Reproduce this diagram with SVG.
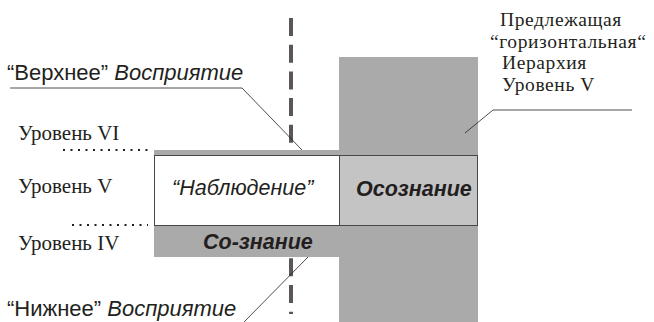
<svg xmlns="http://www.w3.org/2000/svg" width="654" height="322" viewBox="0 0 654 322">
<style>
.sans{font-family:"Liberation Sans",Arial,sans-serif;fill:#231f20}
.serif{font-family:"Liberation Serif","Times New Roman",serif;fill:#231f20;font-size:21px}
.it{font-style:italic}
.bd{font-weight:bold}
.lead{stroke:#231f20;stroke-width:0.8;fill:none}
.dots{stroke:#231f20;stroke-width:2;stroke-dasharray:2 5.5}
.rlab{font-size:19.5px;letter-spacing:0.6px}
</style>
<rect width="654" height="322" fill="#ffffff"/>
<g id="axis">
<line x1="291" y1="18" x2="291" y2="314" stroke="#5b5657" stroke-width="4" stroke-dasharray="18 8.7"/>
</g>
<g id="hierarchy">
<rect x="339" y="57" width="139" height="265" fill="#aaaaaa"/>
</g>
<g id="upper-bar">
<rect x="154" y="150" width="186" height="6" fill="#a9a9a9"/>
</g>
<g id="observation">
<rect x="154.5" y="155.5" width="185" height="70" fill="#ffffff" stroke="#4a4546" stroke-width="1"/>
<text class="sans it" x="172" y="195" font-size="21.5">“Наблюдение”</text>
</g>
<g id="awareness">
<rect x="339.5" y="155.5" width="138" height="70" fill="#c4c4c4" stroke="#4a4546" stroke-width="1"/>
<text class="sans it bd" x="356" y="196" font-size="21.5">Осознание</text>
</g>
<g id="coknowledge">
<rect x="154" y="226" width="185" height="31" fill="#aaaaaa"/>
<text class="sans it bd" x="203" y="249" font-size="21.5">Со-знание</text>
</g>
<g id="levels">
<text class="serif" x="18" y="140">Уровень VI</text>
<text class="serif" x="18" y="193">Уровень V</text>
<text class="serif" x="18" y="250">Уровень IV</text>
<line class="dots" x1="63" y1="150" x2="152" y2="150"/>
<line class="dots" x1="72" y1="225" x2="148" y2="225"/>
</g>
<g id="upper-perception">
<text class="sans" x="7" y="80" font-size="22">“Верхнее” <tspan class="it">Восприятие</tspan></text>
</g>
<g id="lower-perception">
<text class="sans" x="7" y="316" font-size="22">“Нижнее” <tspan class="it">Восприятие</tspan></text>
</g>
<g id="horizontal-label">
<text class="serif rlab" x="500" y="26">Предлежащая</text>
<text class="serif rlab" x="490" y="47.7">“горизонтальная“</text>
<text class="serif rlab" x="502" y="69.4">Иерархия</text>
<text class="serif rlab" x="502" y="91.1">Уровень V</text>
</g>
<g id="connectors">
<polyline class="lead" points="10,88 242,88 302,150"/>
<line class="lead" x1="244" y1="322" x2="308" y2="257"/>
<polyline class="lead" points="632,110 493,110 465,133"/>
</g>
</svg>
